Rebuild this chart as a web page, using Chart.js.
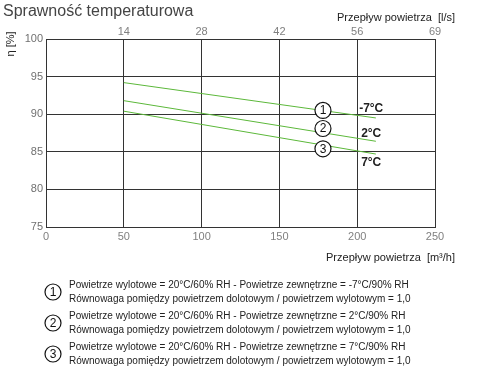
<!DOCTYPE html>
<html><head><meta charset="utf-8">
<script src="https://cdn.jsdelivr.net/npm/chart.js@4/dist/chart.umd.min.js"></script>
<style>html,body{margin:0;padding:0;background:#fff}#wrap{width:480px;height:380px;position:relative}</style>
</head><body><div id="wrap"><canvas id="c" width="480" height="380"></canvas></div>
<script>
const flowM3h = [50, 212];
const series1 = [94.2, 89.5];
const series2 = [91.8, 86.4];
const series3 = [90.4, 84.7];
const seriesNames = ['-7°C', '2°C', '7°C'];
const xTicks = [0, 50, 100, 150, 200, 250];
const topTickLabels = ['', '14', '28', '42', '56', '69'];
const yTicks = [75, 80, 85, 90, 95, 100];
const legendLines = [
  ['Powietrze wylotowe = 20°C/60% RH - Powietrze zewnętrzne = -7°C/90% RH', 'Równowaga pomiędzy powietrzem dolotowym / powietrzem wylotowym = 1,0'],
  ['Powietrze wylotowe = 20°C/60% RH - Powietrze zewnętrzne = 2°C/90% RH', 'Równowaga pomiędzy powietrzem dolotowym / powietrzem wylotowym = 1,0'],
  ['Powietrze wylotowe = 20°C/60% RH - Powietrze zewnętrzne = 7°C/90% RH', 'Równowaga pomiędzy powietrzem dolotowym / powietrzem wylotowym = 1,0']
];
// annotation anchors in data space
const markerAt = [[178, 90.5], [178, 88.1], [178, 85.4]];
const labelAt = [[209, 90.7], [209, 87.4], [209, 83.6]];

const FONT = '"Liberation Sans", Arial, sans-serif';
const green = '#5cb83a';
function mk(vals){ return flowM3h.map((x,i)=>({x, y: vals[i]})); }

function circled(ctx, cx, cy, n, r){
  ctx.save();
  ctx.beginPath(); ctx.arc(cx, cy, r, 0, Math.PI*2);
  ctx.fillStyle = '#fff'; ctx.fill();
  ctx.lineWidth = 1.2; ctx.strokeStyle = '#111'; ctx.stroke();
  ctx.fillStyle = '#111'; ctx.font = (r*1.5).toFixed(0)+'px ' + FONT;
  ctx.textAlign = 'center'; ctx.textBaseline = 'middle';
  ctx.fillText(String(n), cx, cy + 0.5);
  ctx.restore();
}

const deco = {
  id: 'deco',
  afterDatasetsDraw(chart){
    const ctx = chart.ctx, xs = chart.scales.x, ys = chart.scales.y;
    markerAt.forEach((p,i)=>circled(ctx, xs.getPixelForValue(p[0]), ys.getPixelForValue(p[1]), i+1, 8));
    ctx.save();
    ctx.fillStyle = '#222'; ctx.font = 'bold 12px ' + FONT;
    ctx.textAlign = 'center'; ctx.textBaseline = 'middle';
    labelAt.forEach((p,i)=>ctx.fillText(seriesNames[i], xs.getPixelForValue(p[0]), ys.getPixelForValue(p[1])));
    ctx.restore();
  },
  afterDraw(chart){
    const ctx = chart.ctx;
    ctx.save();
    ctx.fillStyle = '#444'; ctx.font = '16px ' + FONT; ctx.textBaseline = 'alphabetic'; ctx.textAlign = 'left';
    ctx.fillText('Sprawność temperaturowa', 3, 16);
    ctx.fillStyle = '#222'; ctx.font = '11px ' + FONT; ctx.textAlign = 'right';
    ctx.fillText('Przepływ powietrza  [l/s]', 455, 21);
    ctx.fillText('Przepływ powietrza  [m³/h]', 455, 261);
    ctx.save();
    ctx.translate(11, 44); ctx.rotate(-Math.PI/2);
    ctx.textAlign = 'center'; ctx.textBaseline = 'middle'; ctx.font = '11px ' + FONT;
    ctx.fillText('η [%]', 0, 0);
    ctx.restore();
    legendLines.forEach((ls,i)=>{
      const y0 = 285 + i*31;
      circled(ctx, 53, y0 + 7, i+1, 8);
      ctx.font = '10px ' + FONT; ctx.fillStyle = '#222'; ctx.textAlign = 'left'; ctx.textBaseline = 'middle';
      ctx.fillText(ls[0], 69, y0);
      ctx.fillText(ls[1], 69, y0 + 14);
    });
    ctx.restore();
  }
};

new Chart(document.getElementById('c'), {
  type: 'line',
  data: { datasets: [
    { data: mk(series1), borderColor: green, borderWidth: 1, pointRadius: 0 },
    { data: mk(series2), borderColor: green, borderWidth: 1, pointRadius: 0 },
    { data: mk(series3), borderColor: green, borderWidth: 1, pointRadius: 0 }
  ]},
  options: {
    responsive: false, animation: false, devicePixelRatio: 1,
    plugins: { legend: { display: false }, tooltip: { enabled: false } },
    scales: {
      x: {
        type: 'linear', position: 'bottom', min: 0, max: 250,
        afterBuildTicks: s => { s.ticks = xTicks.map(v=>({value:v})); },
        afterFit: s => { s.height = 153; },
        grid: { color: '#333', lineWidth: 1, drawTicks: false },
        border: { color: '#333' },
        ticks: { color: '#808080', font: { family: FONT, size: 11 }, padding: 3, maxRotation: 0 }
      },
      x2: {
        type: 'linear', position: 'top', min: 0, max: 250,
        afterBuildTicks: s => { s.ticks = xTicks.map(v=>({value:v})); },
        afterFit: s => { s.height = 37; },
        grid: { display: false, drawTicks: false },
        border: { display: false },
        ticks: { color: '#808080', font: { family: FONT, size: 11 }, padding: 0, maxRotation: 0,
          callback: (v, i) => topTickLabels[i] }
      },
      y: {
        min: 75, max: 100,
        afterBuildTicks: s => { s.ticks = yTicks.map(v=>({value:v})); },
        afterFit: s => { s.width = 46; },
        grid: { color: '#333', lineWidth: 1, drawTicks: false },
        border: { color: '#333' },
        ticks: { color: '#707070', font: { family: FONT, size: 11 }, padding: 3 }
      }
    },
    layout: { padding: { left: 0, right: 45, top: 2, bottom: 0 } }
  },
  plugins: [deco]
});
</script></body></html>
